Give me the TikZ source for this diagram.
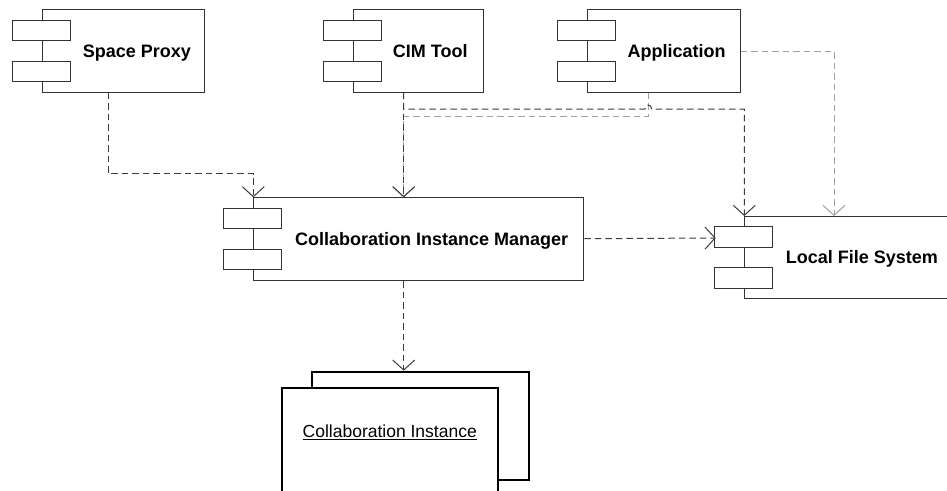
\documentclass[tikz,border=0pt]{standalone}
\usepackage{fontspec}
\setmainfont{Liberation Sans}
\usetikzlibrary{arrows.meta,calc}

\definecolor{edge}{HTML}{333333}
\definecolor{depdark}{HTML}{3C3C3C}
\definecolor{depgray}{HTML}{A0A0A0}

\tikzset{
  comp/.style={draw=edge, line width=1pt, fill=white, rectangle, inner sep=0pt, anchor=north west},
  port/.style={draw=edge, line width=1pt, fill=white},
  complabel/.style={anchor=base west, inner sep=0pt, font=\bfseries\fontsize{18}{20}\selectfont},
  inst/.style={draw=black, line width=1.8pt, fill=white, rectangle, inner sep=0pt, anchor=north west},
  dep/.style={draw=depdark, line width=1pt, dash pattern=on 6.5pt off 4pt,
    -{Straight Barb[length=10pt,width=22pt,line width=1pt]}},
  depg/.style={dep, draw=depgray},
}

% the two port rectangles on the left edge of a component box
\newcommand\portpair[1]{%
  \draw[port] ($(#1.north west)+(-29.4,10.7)$) rectangle ++(58,20.5);
  \draw[port] ($(#1.north west)+(-29.4,51.7)$) rectangle ++(58,20.5);
}

\begin{document}
\begin{tikzpicture}[x=1pt,y=-1pt]
\path[use as bounding box, clip] (0,0) rectangle (947,490);
\fill[white] (0,0) rectangle (947,490);

% component boxes
\node[comp, minimum width=162.3pt, minimum height=82.4pt] (sp)  at (41.7,9.3) {};
\node[comp, minimum width=129.7pt, minimum height=82.4pt] (ct)  at (353.3,9.3) {};
\node[comp, minimum width=153pt,   minimum height=82.4pt] (app) at (586.7,9.3) {};
\node[comp, minimum width=330pt,   minimum height=82.7pt] (cim) at (253.3,197.3) {};
\node[comp, minimum width=230pt,   minimum height=81.7pt] (lfs) at (744.3,216) {};

\foreach \c in {sp,ct,app,cim,lfs} {\portpair{\c}}

% component names
\node[complabel] (sp-t)  at ($(sp.west)+(41,6.4)$)  {Space Proxy};
\node[complabel] (ct-t)  at ($(ct.west)+(39.4,6.4)$) {CIM Tool};
\node[complabel] (app-t) at ($(app.west)+(40.6,6.4)$) {Application};
\node[complabel] (cim-t) at ($(cim.west)+(41.7,6.4)$) {Collaboration Instance Manager};
\node[complabel] (lfs-t) at ($(lfs.west)+(41.4,6.4)$) {Local File System};

% stacked instance boxes
\node[inst, minimum width=216.7pt, minimum height=108.3pt] (ciback)  at (311,370.7) {};
\node[inst, minimum width=216.3pt, minimum height=140pt]   (cifront) at (280.7,387) {};
\node[anchor=base, inner sep=0pt, font=\fontsize{17.5}{20}\selectfont] (ci-t)
  at ($(cifront.north)+(0,50.7)$) {\underline{Collaboration Instance}};

% anchor points of the connectors
\coordinate (spOut)   at ($(sp.south west)+(66.3,0)$);
\coordinate (ctOut)   at ($(ct.south west)+(50.4,0)$);
\coordinate (appOut)  at ($(app.south west)+(61.6,0)$);
\coordinate (appSide) at ($(app.north east)+(0,41.7)$);
\coordinate (cimInL)  at (cim.north west);
\coordinate (cimIn)   at ($(cim.north west)+(150.4,0)$);
\coordinate (cimOutR) at ($(cim.north east)+(0,41.4)$);
\coordinate (cimOutB) at ($(cim.south west)+(150.4,0)$);
\coordinate (lfsInL)  at ($(lfs.north west)+(0,0)$);
\coordinate (lfsInR)  at ($(lfs.north west)+(89.7,0)$);
\coordinate (lfsPort) at ($(lfs.north west)+(-28.6,22)$);
\coordinate (ciIn)    at ($(ciback.north west)+(92.7,0)$);

% dependencies
\draw[depg] (appOut) -- ++(0,23.3) -| (cimIn);
\draw[depg] (appSide) -| (lfsInR);
\draw[dep] (spOut) |- ($(cimInL)+(0,-23.6)$) -- (cimInL);
\draw[dep] (ctOut) -- (cimIn);
\draw[dep] (ctOut) -- ++(0,16.3) -- ($(appOut)+(-3.3,16.3)$)
  .. controls ($(appOut)+(-3.3,11)$) and ($(appOut)+(3.3,11)$) .. ($(appOut)+(3.3,16.3)$)
  -| (lfsInL);
\draw[dep] (cimOutR) -- (lfsPort);
\draw[dep] (cimOutB) -- (ciIn);
\end{tikzpicture}
\end{document}
